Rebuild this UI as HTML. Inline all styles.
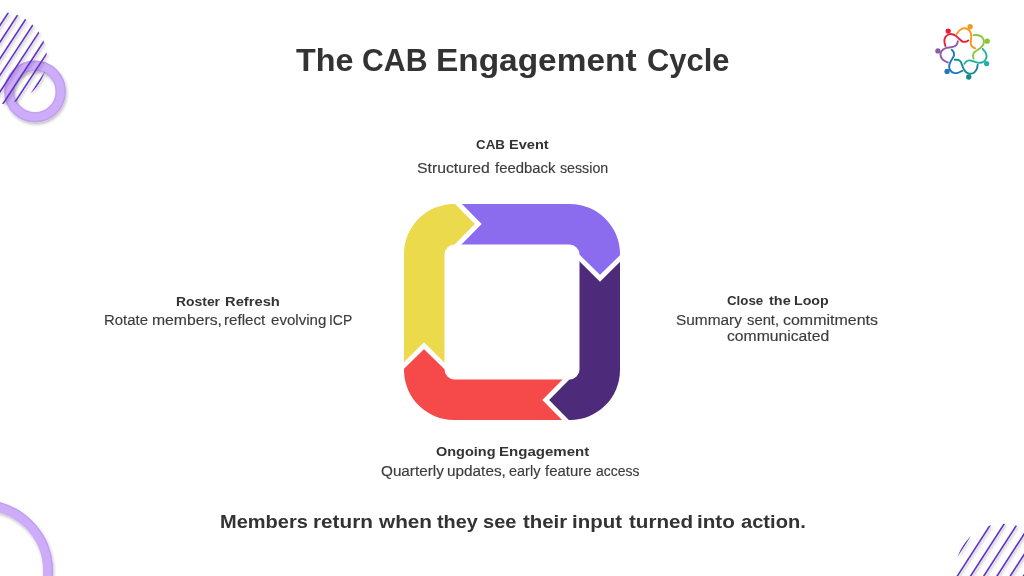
<!DOCTYPE html>
<html><head><meta charset="utf-8"><title>The CAB Engagement Cycle</title>
<style>
html,body{margin:0;padding:0;background:#fff;}
body{width:1024px;height:576px;position:relative;overflow:hidden;font-family:"Liberation Sans",sans-serif;}
.t{position:absolute;white-space:nowrap;transform-origin:0 0;}
svg.full{position:absolute;left:0;top:0;}
</style></head><body>
<svg class="full" width="1024" height="576" viewBox="0 0 1024 576">
<defs>
<filter id="sh" x="-20%" y="-20%" width="140%" height="140%"><feDropShadow dx="1.5" dy="1.5" stdDeviation="1" flood-color="#000" flood-opacity="0.25"/></filter>
<filter id="sh2" x="-20%" y="-20%" width="140%" height="140%"><feDropShadow dx="1" dy="2" stdDeviation="1.5" flood-color="#000" flood-opacity="0.25"/></filter>
</defs>
<g filter="url(#sh2)"><circle cx="35" cy="91.5" r="25.75" fill="none" stroke="#CDACF9" stroke-width="10.4"/><circle cx="35" cy="91.5" r="30.2" fill="none" stroke="#8a5fd0" stroke-opacity="0.18" stroke-width="1.4"/><circle cx="35" cy="91.5" r="21.3" fill="none" stroke="#8a5fd0" stroke-opacity="0.15" stroke-width="1.4"/></g>
<g filter="url(#sh)"><clipPath id="ctl"><circle cx="0.8" cy="58.1" r="46"/></clipPath>
<g clip-path="url(#ctl)" stroke="#6430C8" stroke-width="1.6"><line x1="-65.20" y1="125.16" x2="66.80" y2="-76.80"/><line x1="-65.20" y1="141.76" x2="66.80" y2="-60.20"/><line x1="-65.20" y1="158.36" x2="66.80" y2="-43.60"/><line x1="-65.20" y1="174.96" x2="66.80" y2="-27.00"/><line x1="-65.20" y1="191.56" x2="66.80" y2="-10.40"/><line x1="-65.20" y1="208.16" x2="66.80" y2="6.20"/><line x1="-65.20" y1="224.76" x2="66.80" y2="22.80"/><line x1="-65.20" y1="241.36" x2="66.80" y2="39.40"/></g></g>
<g filter="url(#sh2)"><circle cx="-18" cy="571" r="66" fill="none" stroke="#CDACF9" stroke-width="10"/><circle cx="-18" cy="571" r="70.3" fill="none" stroke="#8a5fd0" stroke-opacity="0.18" stroke-width="1.4"/></g>
<g filter="url(#sh)"><clipPath id="cbr"><circle cx="1003" cy="571.3" r="47.5"/></clipPath>
<g clip-path="url(#cbr)" stroke="#6430C8" stroke-width="1.6"><line x1="935.50" y1="507.38" x2="1070.50" y2="298.12"/><line x1="935.50" y1="527.88" x2="1070.50" y2="318.62"/><line x1="935.50" y1="548.38" x2="1070.50" y2="339.12"/><line x1="935.50" y1="568.88" x2="1070.50" y2="359.62"/><line x1="935.50" y1="589.38" x2="1070.50" y2="380.12"/><line x1="935.50" y1="609.88" x2="1070.50" y2="400.62"/><line x1="935.50" y1="630.38" x2="1070.50" y2="421.12"/><line x1="935.50" y1="650.88" x2="1070.50" y2="441.62"/><line x1="935.50" y1="671.38" x2="1070.50" y2="462.12"/><line x1="935.50" y1="691.88" x2="1070.50" y2="482.62"/><line x1="935.50" y1="712.38" x2="1070.50" y2="503.12"/><line x1="935.50" y1="732.88" x2="1070.50" y2="523.62"/><line x1="935.50" y1="753.38" x2="1070.50" y2="544.12"/><line x1="935.50" y1="773.88" x2="1070.50" y2="564.62"/></g></g>
<defs><clipPath id="ring"><path fill-rule="evenodd" d="M454,204 H570 A50,50 0 0 1 620,254 V370 A50,50 0 0 1 570,420 H454 A50,50 0 0 1 404,370 V254 A50,50 0 0 1 454,204 Z M454.5,244.5 A10,10 0 0 0 444.5,254.5 V369.5 A10,10 0 0 0 454.5,379.5 H569.5 A10,10 0 0 0 579.5,369.5 V254.5 A10,10 0 0 0 569.5,244.5 Z"/></clipPath></defs>
<g clip-path="url(#ring)">
<polygon fill="#8B6CEE" points="512.00,312.00 454.60,248.00 458.60,244.00 478.30,224.00 458.60,204.00 454.60,200.00 640.00,184.00 624.00,254.60 620.00,258.60 600.00,278.30 580.00,258.60 576.00,254.60"/>
<polygon fill="#4E2A7B" points="512.00,312.00 576.00,254.60 580.00,258.60 600.00,278.30 620.00,258.60 624.00,254.60 640.00,440.00 569.40,424.00 565.40,420.00 545.70,400.00 565.40,380.00 569.40,376.00"/>
<polygon fill="#F64A4A" points="512.00,312.00 569.40,376.00 565.40,380.00 545.70,400.00 565.40,420.00 569.40,424.00 384.00,440.00 400.00,369.40 404.00,365.40 424.00,345.70 444.00,365.40 448.00,369.40"/>
<polygon fill="#EADA4C" points="512.00,312.00 448.00,369.40 444.00,365.40 424.00,345.70 404.00,365.40 400.00,369.40 384.00,184.00 454.60,200.00 458.60,204.00 478.30,224.00 458.60,244.00 454.60,248.00"/>
</g>
<polyline fill="none" stroke="#fff" stroke-width="4.8" stroke-linejoin="miter" stroke-miterlimit="10" points="454.60,200.00 478.30,224.00 454.60,248.00"/>
<polyline fill="none" stroke="#fff" stroke-width="4.8" stroke-linejoin="miter" stroke-miterlimit="10" points="624.00,254.60 600.00,278.30 576.00,254.60"/>
<polyline fill="none" stroke="#fff" stroke-width="4.8" stroke-linejoin="miter" stroke-miterlimit="10" points="569.40,424.00 545.70,400.00 569.40,376.00"/>
<polyline fill="none" stroke="#fff" stroke-width="4.8" stroke-linejoin="miter" stroke-miterlimit="10" points="400.00,369.40 424.00,345.70 448.00,369.40"/>
<path d="M945.40,46.00 C945.23,45.22 944.40,42.78 944.40,41.30 C944.40,39.82 944.72,38.23 945.40,37.10 C946.08,35.97 947.37,34.98 948.50,34.50 C949.63,34.02 950.98,33.98 952.20,34.20 C953.42,34.42 954.67,35.05 955.80,35.80 C956.93,36.55 957.95,37.78 959.00,38.70 C960.05,39.62 961.07,40.78 962.10,41.30 C963.13,41.82 964.17,41.93 965.20,41.80 C966.23,41.67 967.78,40.72 968.30,40.50" stroke="#E3213D" stroke-width="1.9" fill="none" stroke-linecap="round"/><circle cx="948.20" cy="31.10" r="2.65" fill="#E3213D"/>
<path d="M956.75,33.84 C957.26,33.22 958.64,31.05 959.80,30.13 C960.96,29.20 962.39,28.46 963.70,28.29 C965.02,28.12 966.59,28.51 967.67,29.09 C968.75,29.68 969.62,30.71 970.21,31.80 C970.80,32.88 971.09,34.26 971.21,35.61 C971.33,36.96 971.00,38.53 970.93,39.92 C970.87,41.31 970.59,42.83 970.83,43.96 C971.07,45.09 971.63,45.98 972.38,46.70 C973.12,47.42 974.83,48.04 975.32,48.31" stroke="#F39A22" stroke-width="1.9" fill="none" stroke-linecap="round"/><circle cx="970.14" cy="26.74" r="2.65" fill="#F39A22"/>
<path d="M973.33,35.13 C974.13,35.14 976.69,34.87 978.13,35.20 C979.58,35.53 981.05,36.19 982.01,37.11 C982.96,38.03 983.63,39.50 983.85,40.71 C984.07,41.92 983.80,43.24 983.32,44.38 C982.84,45.52 981.94,46.60 980.96,47.54 C979.98,48.47 978.55,49.19 977.42,50.01 C976.29,50.83 974.93,51.56 974.20,52.45 C973.46,53.35 973.12,54.33 973.02,55.37 C972.92,56.40 973.50,58.12 973.60,58.68" stroke="#8CC63F" stroke-width="1.9" fill="none" stroke-linecap="round"/><circle cx="987.23" cy="41.17" r="2.65" fill="#8CC63F"/>
<path d="M982.66,48.90 C983.15,49.53 984.96,51.36 985.60,52.70 C986.24,54.03 986.65,55.60 986.52,56.91 C986.40,58.23 985.67,59.67 984.86,60.60 C984.05,61.53 982.84,62.14 981.65,62.48 C980.46,62.81 979.06,62.78 977.72,62.60 C976.37,62.41 974.92,61.74 973.58,61.37 C972.23,61.00 970.81,60.39 969.65,60.38 C968.50,60.36 967.52,60.70 966.64,61.27 C965.77,61.84 964.79,63.37 964.42,63.79" stroke="#20B2A0" stroke-width="1.9" fill="none" stroke-linecap="round"/><circle cx="986.60" cy="63.53" r="2.65" fill="#20B2A0"/>
<path d="M977.71,64.78 C977.52,65.55 977.22,68.11 976.58,69.44 C975.93,70.78 974.96,72.07 973.85,72.79 C972.75,73.52 971.16,73.85 969.93,73.79 C968.70,73.74 967.47,73.18 966.47,72.46 C965.47,71.73 964.61,70.62 963.92,69.45 C963.22,68.29 962.84,66.73 962.29,65.45 C961.75,64.17 961.34,62.68 960.63,61.76 C959.92,60.85 959.04,60.30 958.05,59.97 C957.06,59.64 955.26,59.82 954.70,59.79" stroke="#138A8C" stroke-width="1.9" fill="none" stroke-linecap="round"/><circle cx="968.73" cy="76.99" r="2.65" fill="#138A8C"/>
<path d="M962.22,70.81 C961.49,71.15 959.30,72.50 957.86,72.83 C956.41,73.16 954.80,73.20 953.54,72.79 C952.28,72.38 951.04,71.34 950.31,70.35 C949.59,69.35 949.26,68.04 949.20,66.81 C949.14,65.57 949.48,64.21 949.96,62.94 C950.44,61.67 951.41,60.40 952.07,59.17 C952.73,57.95 953.64,56.70 953.92,55.57 C954.19,54.45 954.07,53.42 953.71,52.44 C953.35,51.46 952.08,50.16 951.76,49.71" stroke="#1F77C0" stroke-width="1.9" fill="none" stroke-linecap="round"/><circle cx="947.07" cy="71.40" r="2.65" fill="#1F77C0"/>
<path d="M947.83,62.45 C947.12,62.10 944.70,61.23 943.54,60.31 C942.38,59.38 941.34,58.15 940.88,56.90 C940.42,55.66 940.45,54.05 940.78,52.86 C941.10,51.67 941.92,50.60 942.85,49.78 C943.78,48.96 945.05,48.38 946.34,47.96 C947.64,47.54 949.23,47.52 950.61,47.27 C951.98,47.02 953.52,46.95 954.57,46.47 C955.62,45.98 956.36,45.25 956.90,44.35 C957.44,43.46 957.66,41.66 957.81,41.12" stroke="#8E5BA8" stroke-width="1.9" fill="none" stroke-linecap="round"/><circle cx="937.93" cy="50.97" r="2.65" fill="#8E5BA8"/>
</svg>
<div class="t" style="left:295.7px;top:44.599999999999994px;font-size:30.5px;line-height:30.5px;font-weight:700;color:#333333;transform:scaleX(1.0604)">The</div>
<div class="t" style="left:361.61px;top:44.599999999999994px;font-size:30.5px;line-height:30.5px;font-weight:700;color:#333333;transform:scaleX(0.9906)">CAB</div>
<div class="t" style="left:436.31px;top:44.599999999999994px;font-size:30.5px;line-height:30.5px;font-weight:700;color:#333333;transform:scaleX(1.0956)">Engagement</div>
<div class="t" style="left:646.89px;top:44.599999999999994px;font-size:30.5px;line-height:30.5px;font-weight:700;color:#333333;transform:scaleX(1.0138)">Cycle</div>
<div class="t" style="left:476.2px;top:137.75px;font-size:13.2px;line-height:13.2px;font-weight:700;color:#333333;transform:scaleX(1.0107)">CAB</div>
<div class="t" style="left:508.99px;top:137.75px;font-size:13.2px;line-height:13.2px;font-weight:700;color:#333333;transform:scaleX(1.1057)">Event</div>
<div class="t" style="left:416.76px;top:161.9px;font-size:13.8px;line-height:13.8px;font-weight:400;color:#3c3c3c;-webkit-text-stroke:0.15px #3c3c3c;transform:scaleX(1.1419)">Structured</div>
<div class="t" style="left:494.5px;top:161.9px;font-size:13.8px;line-height:13.8px;font-weight:400;color:#3c3c3c;-webkit-text-stroke:0.15px #3c3c3c;transform:scaleX(1.0786)">feedback</div>
<div class="t" style="left:559.8px;top:161.9px;font-size:13.8px;line-height:13.8px;font-weight:400;color:#3c3c3c;-webkit-text-stroke:0.15px #3c3c3c;transform:scaleX(1.0304)">session</div>
<div class="t" style="left:176.45px;top:294.6px;font-size:13.2px;line-height:13.2px;font-weight:700;color:#333333;transform:scaleX(1.0537)">Roster</div>
<div class="t" style="left:225.08px;top:294.6px;font-size:13.2px;line-height:13.2px;font-weight:700;color:#333333;transform:scaleX(1.117)">Refresh</div>
<div class="t" style="left:103.72px;top:313.8px;font-size:13.8px;line-height:13.8px;font-weight:400;color:#3c3c3c;-webkit-text-stroke:0.15px #3c3c3c;transform:scaleX(1.0821)">Rotate</div>
<div class="t" style="left:151.56px;top:313.8px;font-size:13.8px;line-height:13.8px;font-weight:400;color:#3c3c3c;-webkit-text-stroke:0.15px #3c3c3c;transform:scaleX(1.1407)">members,</div>
<div class="t" style="left:223.9px;top:313.8px;font-size:13.8px;line-height:13.8px;font-weight:400;color:#3c3c3c;-webkit-text-stroke:0.15px #3c3c3c;transform:scaleX(1.0973)">reflect</div>
<div class="t" style="left:270.7px;top:313.8px;font-size:13.8px;line-height:13.8px;font-weight:400;color:#3c3c3c;-webkit-text-stroke:0.15px #3c3c3c;transform:scaleX(1.092)">evolving</div>
<div class="t" style="left:329.39px;top:313.8px;font-size:13.8px;line-height:13.8px;font-weight:400;color:#3c3c3c;-webkit-text-stroke:0.15px #3c3c3c;transform:scaleX(1.0091)">ICP</div>
<div class="t" style="left:727.3px;top:294.3px;font-size:13.2px;line-height:13.2px;font-weight:700;color:#333333;transform:scaleX(1.0083)">Close</div>
<div class="t" style="left:768.5px;top:294.3px;font-size:13.2px;line-height:13.2px;font-weight:700;color:#333333;transform:scaleX(1.095)">the</div>
<div class="t" style="left:794.22px;top:294.3px;font-size:13.2px;line-height:13.2px;font-weight:700;color:#333333;transform:scaleX(1.0774)">Loop</div>
<div class="t" style="left:676.18px;top:313.6px;font-size:13.8px;line-height:13.8px;font-weight:400;color:#3c3c3c;-webkit-text-stroke:0.15px #3c3c3c;transform:scaleX(1.1172)">Summary</div>
<div class="t" style="left:746.9px;top:313.6px;font-size:13.8px;line-height:13.8px;font-weight:400;color:#3c3c3c;-webkit-text-stroke:0.15px #3c3c3c;transform:scaleX(1.0724)">sent,</div>
<div class="t" style="left:782.9px;top:313.6px;font-size:13.8px;line-height:13.8px;font-weight:400;color:#3c3c3c;-webkit-text-stroke:0.15px #3c3c3c;transform:scaleX(1.1573)">commitments</div>
<div class="t" style="left:726.7px;top:329.8px;font-size:13.8px;line-height:13.8px;font-weight:400;color:#3c3c3c;-webkit-text-stroke:0.15px #3c3c3c;transform:scaleX(1.1382)">communicated</div>
<div class="t" style="left:435.6px;top:444.6px;font-size:13.2px;line-height:13.2px;font-weight:700;color:#333333;transform:scaleX(1.0981)">Ongoing</div>
<div class="t" style="left:499.36px;top:444.6px;font-size:13.2px;line-height:13.2px;font-weight:700;color:#333333;transform:scaleX(1.141)">Engagement</div>
<div class="t" style="left:380.5px;top:464.9px;font-size:13.8px;line-height:13.8px;font-weight:400;color:#3c3c3c;-webkit-text-stroke:0.15px #3c3c3c;transform:scaleX(1.107)">Quarterly</div>
<div class="t" style="left:447.09px;top:464.9px;font-size:13.8px;line-height:13.8px;font-weight:400;color:#3c3c3c;-webkit-text-stroke:0.15px #3c3c3c;transform:scaleX(1.1118)">updates,</div>
<div class="t" style="left:508.8px;top:464.9px;font-size:13.8px;line-height:13.8px;font-weight:400;color:#3c3c3c;-webkit-text-stroke:0.15px #3c3c3c;transform:scaleX(1.05)">early</div>
<div class="t" style="left:544.6px;top:464.9px;font-size:13.8px;line-height:13.8px;font-weight:400;color:#3c3c3c;-webkit-text-stroke:0.15px #3c3c3c;transform:scaleX(1.0814)">feature</div>
<div class="t" style="left:596.3px;top:464.9px;font-size:13.8px;line-height:13.8px;font-weight:400;color:#3c3c3c;-webkit-text-stroke:0.15px #3c3c3c;transform:scaleX(1.0093)">access</div>
<div class="t" style="left:219.77px;top:513.7px;font-size:17.8px;line-height:17.8px;font-weight:700;color:#333333;transform:scaleX(1.126)">Members</div>
<div class="t" style="left:313.43px;top:513.7px;font-size:17.8px;line-height:17.8px;font-weight:700;color:#333333;transform:scaleX(1.1653)">return</div>
<div class="t" style="left:379.0px;top:513.7px;font-size:17.8px;line-height:17.8px;font-weight:700;color:#333333;transform:scaleX(1.1659)">when</div>
<div class="t" style="left:437.3px;top:513.7px;font-size:17.8px;line-height:17.8px;font-weight:700;color:#333333;transform:scaleX(1.1162)">they</div>
<div class="t" style="left:483.38px;top:513.7px;font-size:17.8px;line-height:17.8px;font-weight:700;color:#333333;transform:scaleX(1.125)">see</div>
<div class="t" style="left:522.6px;top:513.7px;font-size:17.8px;line-height:17.8px;font-weight:700;color:#333333;transform:scaleX(1.1474)">their</div>
<div class="t" style="left:571.95px;top:513.7px;font-size:17.8px;line-height:17.8px;font-weight:700;color:#333333;transform:scaleX(1.15)">input</div>
<div class="t" style="left:628.8px;top:513.7px;font-size:17.8px;line-height:17.8px;font-weight:700;color:#333333;transform:scaleX(1.1593)">turned</div>
<div class="t" style="left:697.24px;top:513.7px;font-size:17.8px;line-height:17.8px;font-weight:700;color:#333333;transform:scaleX(1.1613)">into</div>
<div class="t" style="left:740.6px;top:513.7px;font-size:17.8px;line-height:17.8px;font-weight:700;color:#333333;transform:scaleX(1.1304)">action.</div>
</body></html>
